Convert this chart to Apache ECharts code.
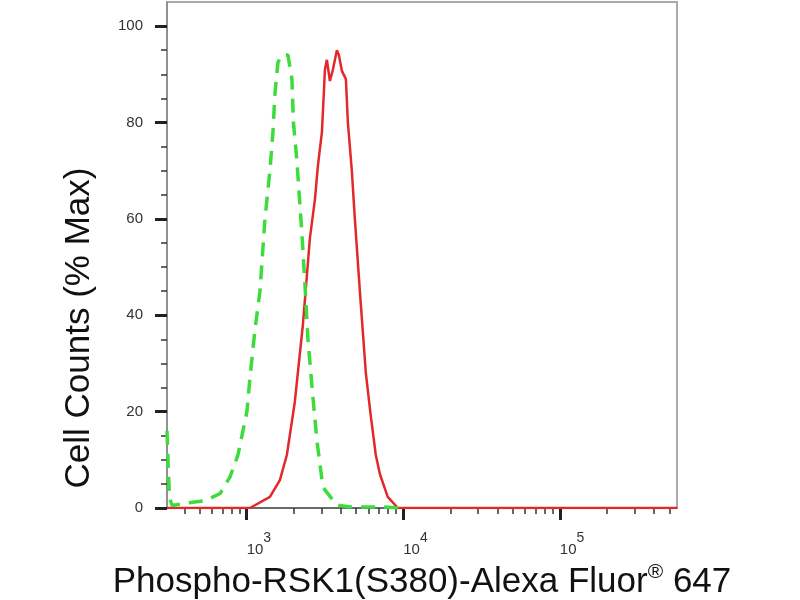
<!DOCTYPE html>
<html>
<head>
<meta charset="utf-8">
<script src="https://cdn.jsdelivr.net/npm/echarts@6/dist/echarts.min.js"></script>
<style>
  html, body { margin: 0; padding: 0; background: #fff; }
  #chart { width: 800px; height: 600px; }
</style>
</head>
<body>
<div id="chart"></div>
<script>
// control (isotype) histogram, green dashed
var controlX = [310, 316, 322, 335, 404, 542, 676, 782, 880, 1004, 1050, 1130, 1216, 1309, 1408, 1472, 1516, 1585, 1680, 1835, 1946, 1990, 2094, 2188, 2253, 2355, 2462, 2650, 2810, 3070, 3770, 4560, 7410, 9510];
var controlY = [16, 8, 2, 0.5, 1, 1.5, 3, 6.4, 11, 20, 27, 37, 45, 60, 70, 78, 86, 92.5, 94, 94, 89, 80, 72, 63, 57, 46.5, 35, 23, 14, 4.3, 0.6, 0.2, 0.2, 0];

// stained sample histogram, red solid
var sampleX = [310, 1050, 1408, 1630, 1806, 1946, 2030, 2286, 2535, 2728, 2851, 3025, 3162, 3253, 3402, 3556, 3770, 3881, 4057, 4303, 4430, 4695, 4909, 5284, 5770, 6210, 6680, 7100, 7960, 9240, 560000];
var sampleY = [0, 0, 2.3, 5.8, 11, 18, 22, 38, 56, 64, 71, 78, 91, 93, 88.6, 91, 95, 94, 90.7, 89, 80, 70, 60, 45, 28, 19, 11, 7, 2.3, 0, 0];

var xMajorTicks = [1000, 10000, 100000];
var xMinorTicks = [400, 500, 600, 700, 800, 900,
                   2000, 3000, 4000, 5000, 6000, 7000, 8000, 9000,
                   20000, 30000, 40000, 50000, 60000, 70000, 80000, 90000,
                   200000, 300000, 400000, 500000];
var yMajorTicks = [0, 20, 40, 60, 80, 100];
var yMinorTicks = [5, 10, 15, 25, 30, 35, 45, 50, 55, 65, 70, 75, 85, 90, 95];

function zip(xs, ys) {
    return xs.map(function (x, i) { return [x, ys[i]]; });
}

var chart = echarts.init(document.getElementById('chart'));

var option = {
    animation: false,
    backgroundColor: '#fff',
    grid: {
        left: 167, right: 123, top: 2, bottom: 92,
        outerBoundsMode: 'none',
        show: true, borderColor: '#aaa', borderWidth: 2
    },
    xAxis: [
        {
            type: 'log', logBase: 10, min: 310, max: 560000,
            position: 'bottom',
            name: 'Phospho-RSK1(S380)-Alexa Fluor{sup|®} 647',
            nameLocation: 'middle',
            nameGap: 46,
            nameTextStyle: {
                fontFamily: 'Liberation Sans', fontSize: 35, color: '#111',
                rich: {
                    sup: { fontFamily: 'Liberation Sans', fontSize: 21, color: '#111', verticalAlign: 'top', lineHeight: 40 }
                }
            },
            axisLine: { lineStyle: { color: '#555', width: 1.5 } },
            axisTick: { customValues: xMajorTicks, length: 12, lineStyle: { color: '#222', width: 3 } },
            axisLabel: {
                customValues: xMajorTicks,
                margin: 23,
                align: 'left',
                formatter: function (v) {
                    return '{b|10}{s|' + Math.round(Math.log10(v)) + '}';
                },
                rich: {
                    b: { fontFamily: 'Liberation Sans', fontSize: 15, color: '#333', lineHeight: 26, verticalAlign: 'bottom' },
                    s: { fontFamily: 'Liberation Sans', fontSize: 14, color: '#333', lineHeight: 26, verticalAlign: 'top' }
                }
            },
            splitLine: { show: false }
        },
        {
            type: 'log', logBase: 10, min: 310, max: 560000,
            position: 'bottom',
            axisLine: { show: false },
            axisTick: { customValues: xMinorTicks, length: 6, lineStyle: { color: '#333', width: 1.5 } },
            axisLabel: { show: false },
            splitLine: { show: false }
        }
    ],
    yAxis: [
        {
            type: 'value', min: 0, max: 105,
            name: 'Cell Counts (% Max)',
            nameLocation: 'middle',
            nameGap: 70,
            nameTextStyle: {
                fontFamily: 'Liberation Sans', fontSize: 35, color: '#111',
                padding: [0, 146, 0, 0]
            },
            axisLine: { show: true, lineStyle: { color: '#888', width: 1.5 } },
            axisTick: { show: true, customValues: yMajorTicks, length: 12, lineStyle: { color: '#222', width: 3 } },
            axisLabel: {
                customValues: yMajorTicks,
                margin: 24,
                fontFamily: 'Liberation Sans', fontSize: 15, color: '#333'
            },
            splitLine: { show: false }
        },
        {
            type: 'value', min: 0, max: 105,
            position: 'left',
            axisLine: { show: false },
            axisTick: { show: true, customValues: yMinorTicks, length: 6, lineStyle: { color: '#333', width: 1.5 } },
            axisLabel: { show: false },
            splitLine: { show: false }
        }
    ],
    series: [
        {
            name: 'sample',
            type: 'line',
            data: zip(sampleX, sampleY),
            showSymbol: false,
            smooth: false,
            lineStyle: { color: '#e3282c', width: 2.5 },
            z: 3
        },
        {
            name: 'control',
            type: 'line',
            data: zip(controlX, controlY),
            showSymbol: false,
            smooth: false,
            lineStyle: { color: '#3ddc3d', width: 3.5, type: [14, 9] },
            z: 4
        }
    ]
};

chart.setOption(option);
</script>
</body>
</html>
